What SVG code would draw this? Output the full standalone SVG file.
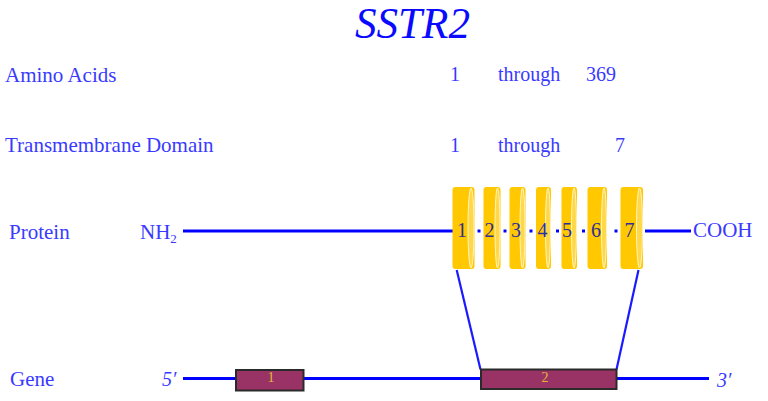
<svg xmlns="http://www.w3.org/2000/svg" width="768" height="401" viewBox="0 0 768 401">
<style>
.t{font-family:"Liberation Serif","Times New Roman",serif;fill:#3a3aff;font-size:20px}
.lb{font-size:21px}
.title{font-family:"Liberation Serif","Times New Roman",serif;font-style:italic;fill:#0a0aff;font-size:44px}
.ln{stroke:#0000ff;stroke-width:3;fill:none}
.cn{stroke:#1a1aff;stroke-width:2.2;fill:none}
.cyl{fill:#ffc800}
.hl{fill:#ffd84a;stroke:#fff4c0;stroke-width:1}
.num{font-family:"Liberation Serif","Times New Roman",serif;fill:#2e2e96;font-size:20px;text-anchor:middle}
.exon{fill:#993366;stroke:#2a2a2a;stroke-width:2}
.elab{font-family:"Liberation Serif","Times New Roman",serif;fill:#e0b830;font-size:14px;text-anchor:middle}
</style>
<rect width="768" height="401" fill="#ffffff"/>
<text id="title" class="title" x="355" y="38" textLength="115" lengthAdjust="spacingAndGlyphs">SSTR2</text>
<g id="labels">
<text class="t lb" x="5" y="81.5">Amino Acids</text>
<text class="t" x="450" y="81">1</text>
<text class="t" x="498" y="81">through</text>
<text class="t" x="586" y="81">369</text>
<text class="t lb" x="5" y="151.5">Transmembrane Domain</text>
<text class="t" x="450" y="151.5">1</text>
<text class="t" x="498" y="151.5">through</text>
<text class="t" x="615" y="151.5">7</text>
<text class="t lb" x="9" y="239">Protein</text>
<text class="t lb" x="10" y="386">Gene</text>
</g>
<g id="connectors">
<line class="ln" x1="183" y1="231" x2="454" y2="231"/>
<line class="ln" x1="645" y1="231" x2="691" y2="231"/>
<line class="ln" x1="477.5" y1="231" x2="480.5" y2="231"/>
<line class="ln" x1="503.5" y1="231" x2="506.5" y2="231"/>
<line class="ln" x1="529.5" y1="231" x2="532.5" y2="231"/>
<line class="ln" x1="556" y1="231" x2="559" y2="231"/>
<line class="ln" x1="582" y1="231" x2="585" y2="231"/>
<line class="ln" x1="614.5" y1="231" x2="617.5" y2="231"/>
<line class="cn" x1="456.7" y1="270" x2="480.5" y2="369.5"/>
<line class="cn" x1="638.5" y1="270" x2="616.5" y2="369.5"/>
<line class="ln" x1="183" y1="378.5" x2="709" y2="378.5"/>
</g>
<g id="protein">
<text class="t lb" x="140" y="239">NH<tspan font-size="13" dy="4">2</tspan></text>
<text class="t lb" x="693" y="237">COOH</text>
</g>
<g id="tm-domains">
<g id="tm1"><rect class="cyl" x="452.5" y="187" width="22" height="82" rx="3"/><ellipse class="hl" cx="471" cy="228" rx="3" ry="40"/><text class="num" x="462" y="237">1</text></g>
<g id="tm2"><rect class="cyl" x="483.5" y="187" width="17" height="82" rx="3"/><ellipse class="hl" cx="497.5" cy="228" rx="2.5" ry="40"/><text class="num" x="489.5" y="237">2</text></g>
<g id="tm3"><rect class="cyl" x="509.5" y="187" width="16" height="82" rx="3"/><ellipse class="hl" cx="522.5" cy="228" rx="2.5" ry="40"/><text class="num" x="516" y="237">3</text></g>
<g id="tm4"><rect class="cyl" x="536" y="187" width="15" height="82" rx="3"/><ellipse class="hl" cx="548" cy="228" rx="2.5" ry="40"/><text class="num" x="542.5" y="237">4</text></g>
<g id="tm5"><rect class="cyl" x="561.5" y="187" width="15.5" height="82" rx="3"/><ellipse class="hl" cx="574" cy="228" rx="2.5" ry="40"/><text class="num" x="567" y="237">5</text></g>
<g id="tm6"><rect class="cyl" x="587.5" y="187" width="19.5" height="82" rx="3"/><ellipse class="hl" cx="604" cy="228" rx="2.5" ry="40"/><text class="num" x="596" y="237">6</text></g>
<g id="tm7"><rect class="cyl" x="620.5" y="187" width="22.5" height="82" rx="3"/><ellipse class="hl" cx="639.5" cy="228" rx="3" ry="40"/><text class="num" x="629.5" y="237">7</text></g>
</g>
<g id="gene">
<text class="t" x="162" y="386" font-style="italic">5′</text>
<text class="t" x="717" y="386.5" font-style="italic">3′</text>
</g>
<g id="exon1"><rect class="exon" x="236" y="370" width="67.5" height="20.5"/><text class="elab" x="271" y="382">1</text></g>
<g id="exon2"><rect class="exon" x="481" y="369.5" width="135.5" height="19.5"/><text class="elab" x="545" y="381.5">2</text></g>
</svg>
